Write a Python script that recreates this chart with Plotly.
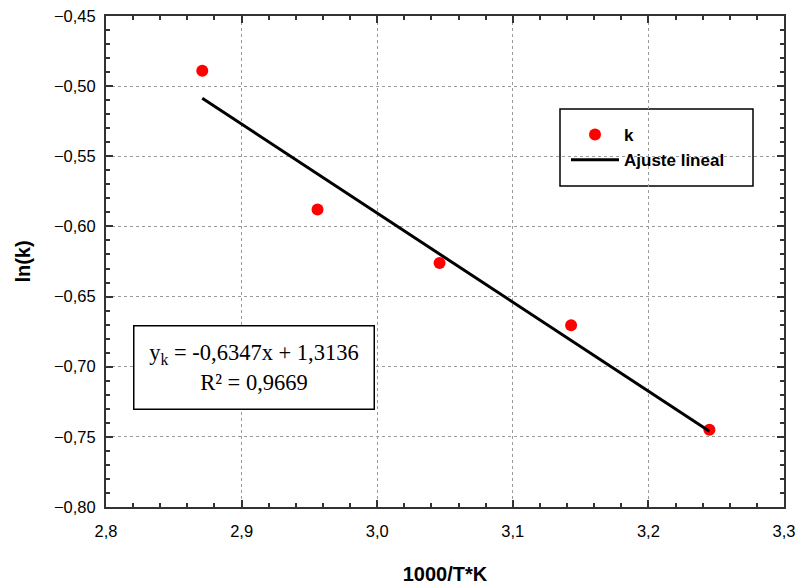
import plotly.graph_objects as go

# Experimental points: inverse temperature (1000/T) vs ln(k)
inv_temp = [2.871, 2.956, 3.046, 3.143, 3.245]
ln_k = [-0.489, -0.588, -0.626, -0.6705, -0.745]

# Linear fit coefficients
slope = -0.6347
intercept = 1.3136
r_squared = 0.9669

x_ticks = [2.8, 2.9, 3.0, 3.1, 3.2, 3.3]
y_ticks = [-0.80, -0.75, -0.70, -0.65, -0.60, -0.55, -0.50, -0.45]

fit_x = [min(inv_temp), max(inv_temp)]
fit_y = [slope * v + intercept for v in fit_x]

fig = go.Figure()
fig.add_trace(go.Scatter(
    x=inv_temp, y=ln_k, mode="markers", name="k",
    marker=dict(color="#ff0000", size=12),
))
fig.add_trace(go.Scatter(
    x=fit_x, y=fit_y, mode="lines", name="Ajuste lineal",
    line=dict(color="black", width=3),
))

def fmt(v, n):
    return f"{v:.{n}f}".replace(".", ",")

eq_text = (f"y<sub>k</sub> = {fmt(slope, 4)}x + {fmt(intercept, 4)}<br>"
           f"R² = {fmt(r_squared, 4)}")

axis_common = dict(
    showline=True, linecolor="#333333", linewidth=2, mirror="allticks",
    ticks="inside", ticklen=7, tickwidth=1.5, tickcolor="#333333",
    showgrid=True, gridcolor="#9a9a9a", griddash="dot", gridwidth=1,
    zeroline=False, automargin=False,
    tickfont=dict(family="Liberation Sans, Arial", size=16.5, color="black"),
)

# plot area in pixels: left 106, right 784, top 16, bottom 507
PL, PR, PT, PB = 106, 784, 16, 507
def px(xp):
    return (xp - PL) / (PR - PL)
def py(yp):
    return (PB - yp) / (PB - PT)

fig.update_layout(
    width=801, height=585,
    margin=dict(l=PL, r=801 - PR, t=PT, b=585 - PB, autoexpand=False),
    paper_bgcolor="white", plot_bgcolor="white",
    separators=",.",
    showlegend=True,
    legend=dict(
        x=px(566), y=py(117), xanchor="left", yanchor="top",
        bgcolor="rgba(0,0,0,0)", borderwidth=0,
        font=dict(family="Liberation Sans, Arial", size=17, color="black",
                  weight="bold"),
        itemwidth=48,
    ),
    shapes=[dict(
        type="rect", xref="paper", yref="paper",
        x0=px(560), x1=px(753), y0=py(186), y1=py(109),
        line=dict(color="black", width=1.5), fillcolor="white", layer="below",
    )],
    xaxis=dict(
        range=[2.8, 3.3], tickvals=x_ticks, tickformat=".1f",
        minor=dict(dtick=0.02, ticks="inside", ticklen=4, tickwidth=1.5,
                   tickcolor="#333333", showgrid=False),
        ticklabelstandoff=8,
        title=dict(text="<b>1000/T*K</b>", standoff=34,
                   font=dict(family="Liberation Sans, Arial", size=20,
                             color="black")),
        **axis_common,
    ),
    yaxis=dict(
        range=[-0.8, -0.45], tickvals=y_ticks, tickformat=".2f",
        minor=dict(dtick=0.01, ticks="inside", ticklen=4, tickwidth=1.5,
                   tickcolor="#333333", showgrid=False),
        ticklabelstandoff=5,
        title=dict(text="<b>ln(k)</b>", standoff=18,
                   font=dict(family="Liberation Sans, Arial", size=20,
                             color="black")),
        **axis_common,
    ),
    annotations=[dict(
        x=px(253.5), y=py(367), xref="paper", yref="paper",
        xanchor="center", yanchor="middle",
        text=eq_text, showarrow=False, align="center",
        font=dict(family="Liberation Serif, Times New Roman", size=22.5,
                  color="black"),
        bgcolor="white", bordercolor="black", borderwidth=1.5,
        borderpad=4, width=231, height=74,
    )],
)

fig.write_html("out.html")
